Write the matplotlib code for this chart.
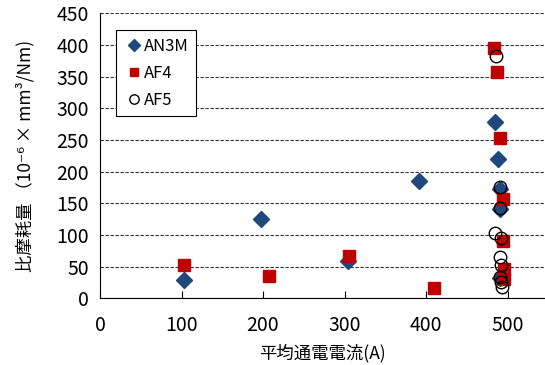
import matplotlib
matplotlib.use('Agg')
import matplotlib.pyplot as plt

plt.rcParams['font.family'] = ['Noto Sans CJK JP', 'DejaVu Sans']

# AN3M
an3m_x = [103, 197, 304, 392, 485, 488, 491, 491, 491]
an3m_y = [29, 125, 59, 186, 279, 220, 173, 141, 32]
# AF4
af4_x = [103, 207, 306, 410, 484, 487, 491, 494, 495, 496, 496]
af4_y = [52, 36, 67, 17, 395, 357, 253, 157, 90, 47, 30]
# AF5
af5_x = [486, 491, 491, 485, 492, 491, 492, 491, 492, 493]
af5_y = [382, 175, 142, 103, 96, 66, 52, 34, 26, 18]

fig = plt.figure(figsize=(5.45, 3.65), dpi=100)
ax = fig.add_axes([0.1835, 0.1827, 0.8165, 0.7809])

ax.plot(an3m_x, an3m_y, 'D', color='#1F497D', ms=8.5, ls='none', label='AN3M')
ax.plot(af4_x, af4_y, 's', color='#C00000', ms=8.5, ls='none', label='AF4')
ax.plot(af5_x, af5_y, 'o', mfc='none', mec='black', mew=1.0, ms=9, ls='none', label='AF5')

ax.set_xlim(0, 546)
ax.set_ylim(0, 450)
ax.set_xticks([0, 100, 200, 300, 400, 500])
ax.set_yticks(range(0, 451, 50))
ax.tick_params(axis='x', direction='in', length=5, labelsize=14, pad=12)
ax.tick_params(axis='y', length=0, labelsize=14, pad=8)
ax.grid(axis='y', color='#333333', lw=0.8, dashes=(3, 1.5))
ax.set_axisbelow(True)
for s in ['top', 'right']:
    ax.spines[s].set_visible(False)

ax.set_xlabel('平均通電電流(A)', fontsize=12.5, labelpad=6)
ax.set_ylabel('比摩耗量 （10⁻⁶ × mm³/Nm)', fontsize=12.5, labelpad=16)

leg = ax.legend(loc='upper left', bbox_to_anchor=(0.036, 0.94), fontsize=12,
                fancybox=False, edgecolor='black', framealpha=1,
                handletextpad=0.0, handlelength=1.2, borderpad=0.45,
                borderaxespad=0, markerscale=0.75, labelspacing=0.6)
leg.get_frame().set_linewidth(0.8)

fig.savefig('out.png', dpi=100)
